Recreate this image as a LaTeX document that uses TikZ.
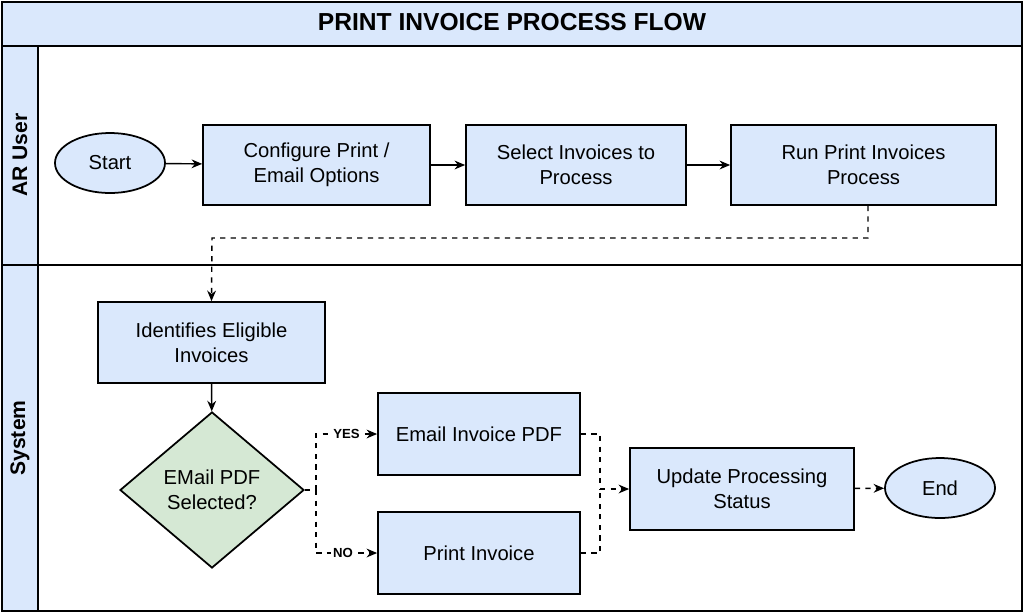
\documentclass[tikz,border=0pt]{standalone}
\usepackage{fontspec}
\setmainfont{Liberation Sans}
\usetikzlibrary{shapes.geometric,arrows.meta}
\definecolor{bl}{HTML}{DAE8FC}
\definecolor{gr}{HTML}{D5E8D4}
\begin{document}
\begin{tikzpicture}[x=0.02cm,y=-0.02cm,
  box/.style={draw,line width=1pt,fill=bl,align=center,font=\fontsize{11.5}{14}\selectfont,inner sep=0},
  ell/.style={draw,line width=1pt,fill=bl,ellipse,font=\fontsize{11.5}{14}\selectfont,inner sep=0},
  solidarr/.style={-{Stealth[length=6pt,width=5pt]},line width=0.8pt},
  dasharr/.style={-{Stealth[length=6pt,width=5pt]},line width=0.8pt,dashed},
  dashln/.style={line width=0.8pt,dashed},
  lbl/.style={font=\bfseries\fontsize{7.5}{9}\selectfont,fill=white,inner sep=1pt}]
\useasboundingbox (0,0) rectangle (1024,613);
\fill[white] (0,0) rectangle (1024,613);
\draw[line width=1pt,fill=bl] (2,2) rectangle (1022,46);
\node[font=\bfseries\fontsize{14}{16}\selectfont] (title) at (512,22) {PRINT INVOICE PROCESS FLOW};
\draw[line width=1pt] (2,46) rectangle (1022,265);
\draw[line width=1pt] (2,265) rectangle (1022,611);
\draw[line width=1pt,fill=bl] (2,46) rectangle (38,265);
\draw[line width=1pt,fill=bl] (2,265) rectangle (38,611);
\node[rotate=90,font=\bfseries\fontsize{12}{14}\selectfont] (lane1) at (20,155) {AR User};
\node[rotate=90,font=\bfseries\fontsize{12}{14}\selectfont] (lane2) at (20,438) {System};

\node[ell,minimum width=110*0.02cm,minimum height=60*0.02cm] (start) at (110,163) {Start};
\node[box,minimum width=227*0.02cm,minimum height=80*0.02cm] (cfg) at (316.5,165) {Configure Print /\\Email Options};
\node[box,minimum width=220*0.02cm,minimum height=80*0.02cm] (sel) at (576,165) {Select Invoices to\\Process};
\node[box,minimum width=265*0.02cm,minimum height=80*0.02cm] (run) at (863.5,165) {Run Print Invoices\\Process};
\node[box,minimum width=227*0.02cm,minimum height=81*0.02cm] (ide) at (211.5,342.5) {Identifies Eligible\\Invoices};
\node[draw,line width=1pt,fill=gr,diamond,aspect=1.18,minimum width=184*0.02cm,minimum height=156*0.02cm,align=center,inner sep=0,font=\fontsize{11.5}{14}\selectfont] (dec) at (212,490) {EMail PDF\\Selected?};
\node[box,minimum width=202*0.02cm,minimum height=82*0.02cm] (em) at (479,434) {Email Invoice PDF};
\node[box,minimum width=202*0.02cm,minimum height=82*0.02cm] (pr) at (479,553) {Print Invoice};
\node[box,minimum width=224*0.02cm,minimum height=82*0.02cm] (up) at (742,489) {Update Processing\\Status};
\node[ell,minimum width=110*0.02cm,minimum height=60*0.02cm] (end) at (940,488) {End};

\draw[solidarr] (start) -- (cfg);
\draw[solidarr] (cfg) -- (sel);
\draw[solidarr] (sel) -- (run);
\coordinate (r1) at (868,238);
\draw[dasharr] (run.south -| r1) -- (r1) -- (212,238) -- (ide.north);
\draw[solidarr] (ide) -- (dec);
\coordinate (s) at (316,490);
\draw[dasharr] (dec.east) -- (s) |- node[lbl,pos=0.75]{YES} (em.west);
\draw[dasharr] (s) |- node[lbl,pos=0.72]{NO} (pr.west);
\coordinate (m) at (600,489);
\draw[dashln] (em.east) -| (m);
\draw[dashln] (pr.east) -| (m);
\draw[dasharr] (m) -- (up.west);
\draw[dasharr] (up) -- (end);
\end{tikzpicture}
\end{document}
